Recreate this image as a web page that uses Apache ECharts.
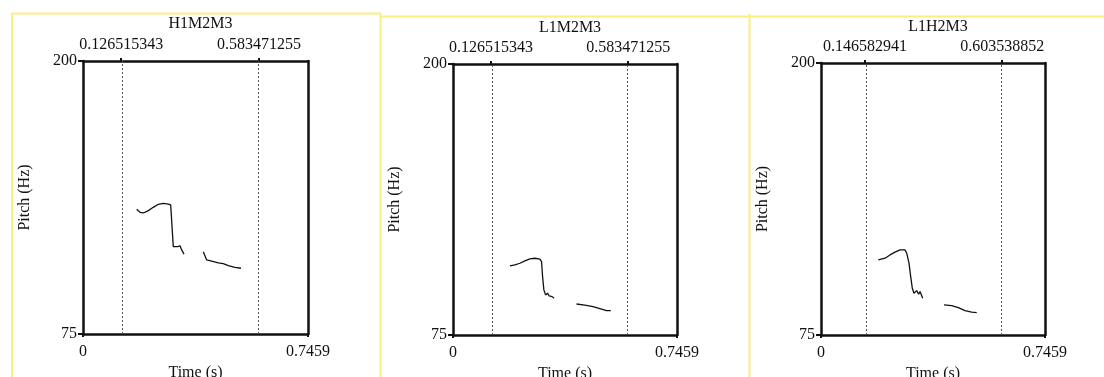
<!DOCTYPE html>
<html>
<head>
<meta charset="utf-8">
<script src="https://cdn.jsdelivr.net/npm/echarts@6/dist/echarts.min.js"></script>
<style>
  html, body { margin: 0; background: #fff; }
  #chart { width: 1104px; height: 377px; }
</style>
</head>
<body>
<div id="chart"></div>
<script>
const TIME_MAX = 0.7459
const PITCH_MIN = 75
const PITCH_MAX = 200
const TITLES = ['H1M2M3', 'L1M2M3', 'L1H2M3']
const BOUNDARIES = [
  [0.126515343, 0.583471255],
  [0.126515343, 0.583471255],
  [0.146582941, 0.603538852],
]

// pitch tracks [time (s), pitch (Hz)], two voiced stretches per panel
const H1M2M3_A = [
  [0.178, 132.1], [0.189, 130.7], [0.202, 130.5], [0.2165, 131.5], [0.233, 133.0],
  [0.2496, 134.4], [0.2662, 134.8], [0.2828, 134.5], [0.2907, 134.1], [0.2993, 115.0],
  [0.314, 115.0], [0.3216, 115.4], [0.3272, 113.5], [0.3348, 111.6],
]
const H1M2M3_B = [
  [0.3988, 112.7], [0.410, 108.9], [0.4266, 108.4], [0.4485, 107.6], [0.465, 107.2],
  [0.4817, 106.3], [0.5039, 105.5], [0.5238, 105.1],
]
const L1M2M3_A = [
  [0.1895, 106.9], [0.2062, 107.3], [0.2228, 108.1], [0.2394, 109.2], [0.256, 110.1],
  [0.2727, 110.4], [0.2893, 110.0], [0.2949, 108.8], [0.2983, 101.9], [0.3026, 95.8],
  [0.3082, 93.5], [0.3149, 94.3], [0.3202, 93.0], [0.3249, 93.9], [0.3302, 92.7], [0.3368, 91.9],
]
const L1M2M3_B = [
  [0.4113, 89.3], [0.4389, 88.8], [0.4665, 88.1], [0.4945, 86.9], [0.5111, 86.2], [0.5254, 86.2],
]
const L1H2M3_A = [
  [0.1908, 109.5], [0.2131, 110.3], [0.2298, 111.8], [0.2464, 113.1], [0.2631, 114.1],
  [0.2797, 114.1], [0.2854, 112.6], [0.293, 108.0], [0.2987, 101.8], [0.304, 96.5],
  [0.3097, 94.2], [0.3187, 95.4], [0.3253, 93.7], [0.3297, 95.0], [0.3387, 91.9],
]
const L1H2M3_B = [
  [0.4096, 88.8], [0.4352, 88.5], [0.4572, 87.6], [0.4795, 86.2], [0.5018, 85.5], [0.5185, 85.3],
]
const TRACKS = [
  [H1M2M3_A, H1M2M3_B],
  [L1M2M3_A, L1M2M3_B],
  [L1H2M3_A, L1H2M3_B],
]

const FONT = 'Liberation Serif'
const INK = '#111'
const GRIDS = [
  { left: 83, top: 61, width: 225, height: 273 },
  { left: 453, top: 64, width: 224, height: 271 },
  { left: 821, top: 63, width: 224, height: 272 },
]
const TITLE_TOPS = [11, 15, 14]
const YELLOW = '#f9ef7e'

const label = { color: INK, fontFamily: FONT, fontSize: 16 }
const boxLine = { show: true, onZero: false, lineStyle: { color: INK, width: 2.5 } }

const xAxis = []
const yAxis = []
const series = []
const title = []

GRIDS.forEach((g, i) => {
  title.push({
    text: TITLES[i],
    left: g.left + g.width / 2,
    top: TITLE_TOPS[i],
    textAlign: 'center',
    textStyle: { ...label, fontWeight: 'normal' },
  })
  // bottom time axis
  xAxis.push({
    type: 'value', gridIndex: i, min: 0, max: TIME_MAX, position: 'bottom',
    axisLine: boxLine,
    axisTick: { show: true, length: 3, lineStyle: { color: INK, width: 2 }, customValues: [0, TIME_MAX] },
    axisLabel: { ...label, margin: 10, customValues: [0, TIME_MAX], formatter: v => String(v) },
    splitLine: { show: false },
    name: 'Time (s)', nameLocation: 'middle', nameGap: 29,
    nameTextStyle: label,
  })
  // top boundary axis
  xAxis.push({
    type: 'value', gridIndex: i, min: 0, max: TIME_MAX, position: 'top',
    axisLine: boxLine,
    axisTick: { show: true, length: 3, lineStyle: { color: INK, width: 2 }, customValues: BOUNDARIES[i] },
    axisLabel: { ...label, margin: 8, customValues: BOUNDARIES[i], formatter: v => String(v) },
    splitLine: { show: false },
  })
  yAxis.push({
    type: 'value', gridIndex: i, min: PITCH_MIN, max: PITCH_MAX, position: 'left',
    axisLine: boxLine,
    axisTick: { show: true, length: 5, lineStyle: { color: INK, width: 2 }, customValues: [PITCH_MIN, PITCH_MAX] },
    axisLabel: { ...label, margin: 6, customValues: [PITCH_MIN, PITCH_MAX], formatter: v => String(v) },
    splitLine: { show: false },
    name: 'Pitch (Hz)', nameLocation: 'middle', nameGap: 50, nameRotate: 90,
    nameTextStyle: label,
  })
  yAxis.push({
    type: 'value', gridIndex: i, min: PITCH_MIN, max: PITCH_MAX, position: 'right',
    axisLine: boxLine,
    axisTick: { show: false },
    axisLabel: { show: false },
    splitLine: { show: false },
  })
  TRACKS[i].forEach((seg, k) => {
    series.push({
      type: 'line',
      xAxisIndex: i * 2,
      yAxisIndex: i * 2,
      data: seg,
      showSymbol: false,
      symbol: 'none',
      smooth: false,
      silent: true,
      lineStyle: { color: INK, width: 1.3 },
      markLine: k === 0 ? {
        silent: true,
        symbol: ['none', 'none'],
        label: { show: false },
        lineStyle: { color: '#555', width: 1, type: [2, 2] },
        data: BOUNDARIES[i].map(v => ({ xAxis: v })),
      } : undefined,
    })
  })
})

// yellow panel frames of the screenshot
const frame = (x1, y1, x2, y2) => ({
  type: 'line', silent: true,
  shape: { x1, y1, x2, y2 },
  style: { stroke: YELLOW, lineWidth: 2 },
})

const chart = echarts.init(document.getElementById('chart'))
chart.setOption({
  backgroundColor: '#fff',
  animation: false,
  title,
  grid: GRIDS.map(g => ({ ...g, containLabel: false, outerBoundsMode: 'none' })),
  xAxis,
  yAxis,
  series,
  graphic: [
    frame(12, 13.5, 381, 13.5),
    frame(12, 13.5, 12, 377),
    frame(380.5, 13.5, 380.5, 377),
    frame(381, 16.5, 751, 16.5),
    frame(749.5, 14, 749.5, 377),
    frame(751, 16.5, 1104, 16.5),
  ],
})
</script>
</body>
</html>
